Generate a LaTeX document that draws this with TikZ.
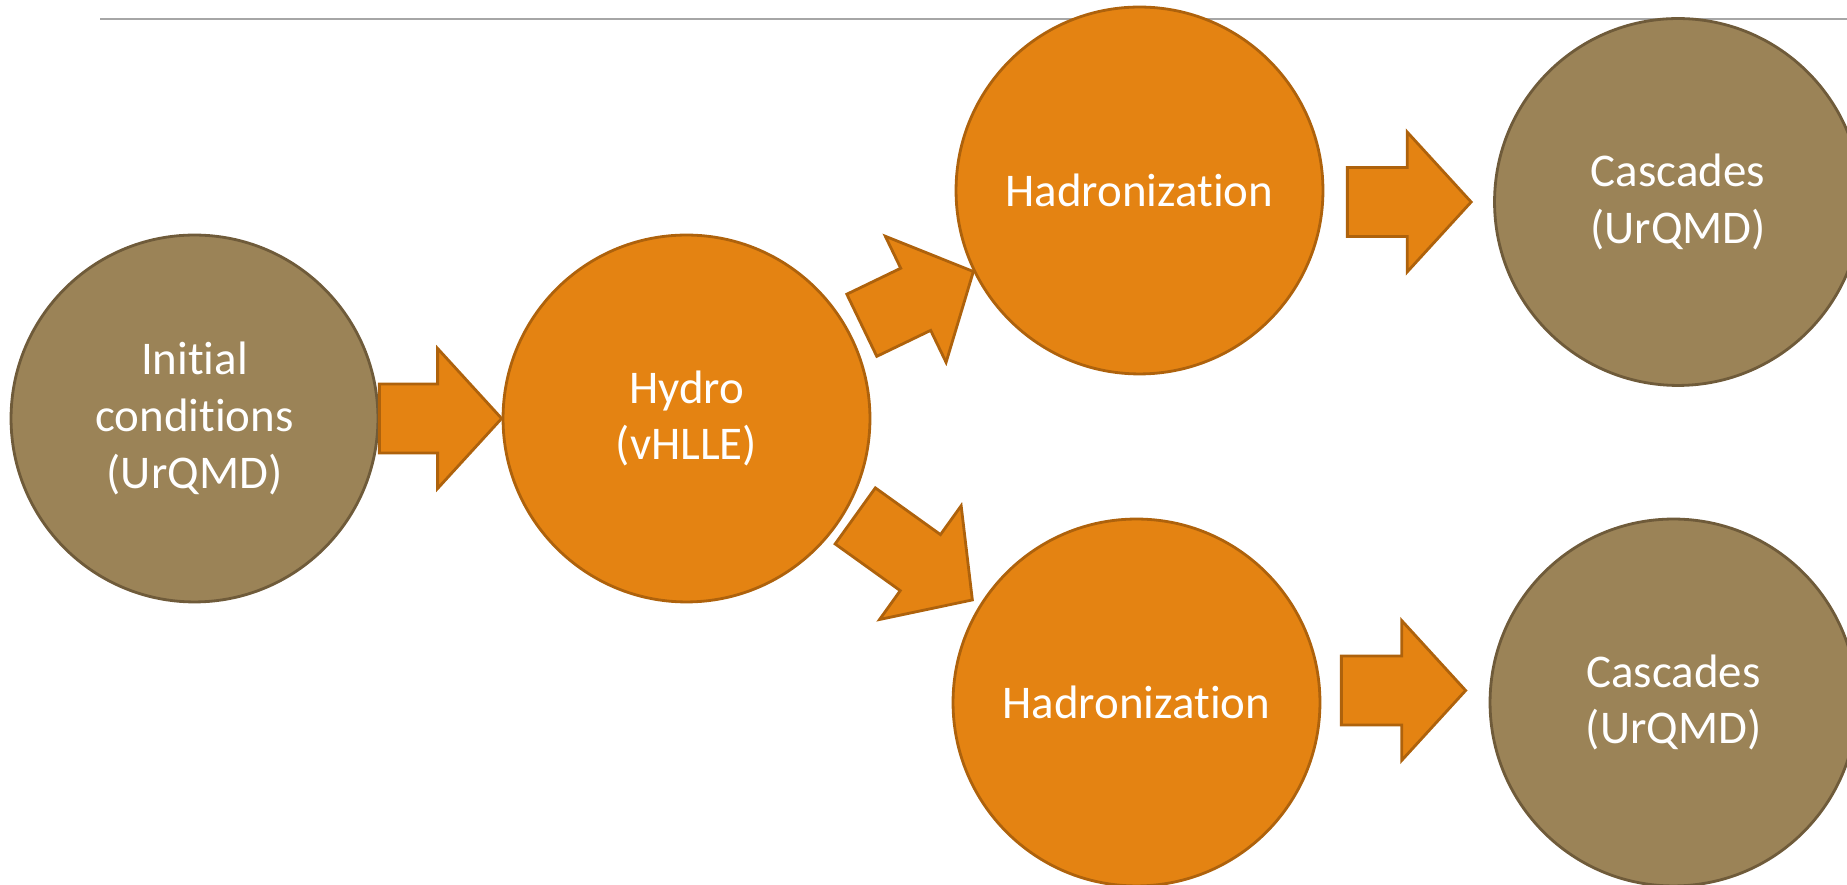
\documentclass[tikz,border=0pt]{standalone}
\usepackage{fontspec}
\setmainfont{Carlito}[Ligatures=NoCommon]
\usetikzlibrary{calc}

\definecolor{ochre}{HTML}{E48312}
\definecolor{ochreline}{HTML}{AE620C}
\definecolor{khaki}{HTML}{9B8357}
\definecolor{khakiline}{HTML}{6F5B3A}
\definecolor{rulegray}{HTML}{A6A6A6}

\tikzset{
  stage/.style={circle, minimum size=7.34cm, inner sep=0pt, line width=1.6pt,
    text=white, align=center, font=\fontsize{26.7}{32.4}\selectfont},
  hydrostage/.style={stage, fill=ochre, draw=ochreline},
  urqmdstage/.style={stage, fill=khaki, draw=khakiline},
  flow/.style={fill=ochre, draw=ochreline, line width=1.6pt, line join=miter},
}

% block arrow from tail centre #1 to tip #2
\newcommand{\blockarrow}[2]{%
  \draw[flow] ($(#1)!0.69cm!90:(#2)$)
    -- ($(#2)!1.28cm!(#1)!0.69cm!-90:(#1)$)
    -- ($(#2)!1.28cm!(#1)!1.4cm!-90:(#1)$)
    -- (#2)
    -- ($(#2)!1.28cm!(#1)!1.4cm!90:(#1)$)
    -- ($(#2)!1.28cm!(#1)!0.69cm!90:(#1)$)
    -- ($(#1)!0.69cm!-90:(#2)$) -- cycle;}

\begin{document}
\begin{tikzpicture}[x=0.02cm, y=0.02cm]
	\useasboundingbox (0,0) rectangle (1847,885);
	\draw[rulegray, line width=1.1pt] (100,866) -- (1847,866);

	\node[urqmdstage] (init) at (194.5,466.5) {Initial\\conditions\\(UrQMD)};
	\node[hydrostage] (hydro) at (686.5,466.5) {Hydro\\(vHLLE)};
	\node[hydrostage] (hadup) at (1139.5,694.5) {Hadronization};
	\node[hydrostage] (haddown) at (1136.5,182.5) {Hadronization};
	\node[urqmdstage] (cascup) at (1678,683) {Cascades\\(UrQMD)};
	\node[urqmdstage] (cascdown) at (1673.5,182.5) {Cascades\\(UrQMD)};

	% arrows between the stages
	\coordinate (a1) at (init.east);
	\coordinate (b1) at (hydro.west);
	\coordinate (a2) at ($(hydro.center)!1.074!(hydro.28)$);
	\coordinate (b2) at (hadup.206);
	\coordinate (a3) at ($(hydro.center)!1.054!(hydro.330)$);
	\coordinate (b3) at ($(haddown.center)!1.047!(haddown.148)$);
	\coordinate (b4) at ($(cascup.west)+(-22,0)$);
	\coordinate (a4) at ($(hadup.east |- b4)+(23,0)$);
	\coordinate (b5) at ($(cascdown.west)+(-23,12)$);
	\coordinate (a5) at ($(haddown.east |- b5)+(20,0)$);
	\foreach \s/\t in {a1/b1, a2/b2, a3/b3, a4/b4, a5/b5}
		\blockarrow{\s}{\t};
\end{tikzpicture}
\end{document}
